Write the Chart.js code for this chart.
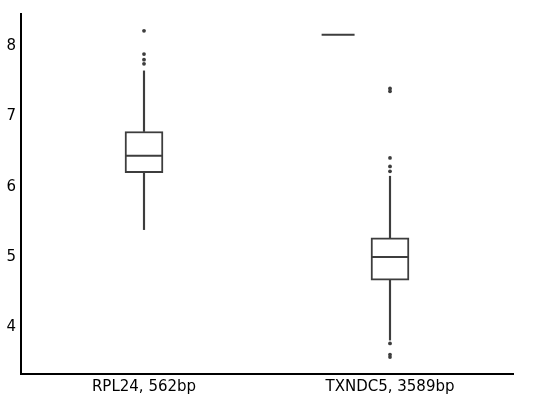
<!DOCTYPE html>
<html>
<head>
<meta charset="utf-8">
<script src="https://cdn.jsdelivr.net/npm/chart.js@4"></script>
<style>
html,body{margin:0;padding:0;background:#fff;}
canvas{display:block;}
</style>
</head>
<body>
<canvas id="c" width="547" height="402"></canvas>
<script>
const categories = ['RPL24, 562bp', 'TXNDC5, 3589bp'];
const q1 = [6.170, 4.640];
const median = [6.411, 4.970];
const q3 = [6.757, 5.243];
const whiskerLow = [5.360, 3.787];
const whiskerHigh = [7.620, 6.120];
const outliersRPL24 = [8.19, 7.86, 7.78, 7.72];
const outliersTXNDC5 = [7.37, 7.33, 6.38, 6.26, 6.19, 3.74, 3.58, 3.545];
const strayMark = { category: 'TXNDC5, 3589bp', value: 8.135 };
const yTicks = [4, 5, 6, 7, 8];
const yMin = 3.304, yMax = 8.43;

const ink = '#3d3d3d';

const boxes = categories.map((c, i) => [q1[i], q3[i]]);
const upperWhisk = categories.map((c, i) => [q3[i], whiskerHigh[i]]);
const lowerWhisk = categories.map((c, i) => [whiskerLow[i], q1[i]]);
const outlierPts = [
  ...outliersRPL24.map(v => ({ x: categories[0], y: v })),
  ...outliersTXNDC5.map(v => ({ x: categories[1], y: v }))
];

const overlay = {
  id: 'overlay',
  afterDatasetsDraw(chart) {
    const ctx = chart.ctx, xs = chart.scales.x, ys = chart.scales.y;
    const band = xs.getPixelForValue(1) - xs.getPixelForValue(0);
    const half = 19;
    ctx.save();
    ctx.strokeStyle = ink;
    ctx.lineWidth = 2;
    categories.forEach((c, i) => {
      const cx = xs.getPixelForValue(i);
      const y = ys.getPixelForValue(median[i]);
      ctx.beginPath();
      ctx.moveTo(cx - half + 1, y);
      ctx.lineTo(cx + half - 1, y);
      ctx.stroke();
    });
    const si = categories.indexOf(strayMark.category);
    const sx = xs.getPixelForValue(si);
    const sy = ys.getPixelForValue(strayMark.value);
    ctx.beginPath();
    ctx.moveTo(sx - 0.278 * band, sy);
    ctx.lineTo(sx - 0.144 * band, sy);
    ctx.stroke();
    ctx.restore();
  }
};

new Chart(document.getElementById('c'), {
  type: 'bar',
  data: {
    labels: categories,
    datasets: [
      { data: upperWhisk, backgroundColor: ink, borderWidth: 0, barThickness: 1.5, grouped: false, order: 3 },
      { data: lowerWhisk, backgroundColor: ink, borderWidth: 0, barThickness: 1.5, grouped: false, order: 3 },
      { data: boxes, backgroundColor: '#ffffff', borderColor: ink, borderWidth: 2, borderSkipped: false, barThickness: 38, grouped: false, order: 2 },
      { type: 'line', data: outlierPts, showLine: false, pointRadius: 1.9, pointBackgroundColor: ink, pointBorderWidth: 0, order: 1 }
    ]
  },
  options: {
    responsive: false,
    animation: false,
    devicePixelRatio: 1,
    layout: { padding: { top: 13, right: 34, left: 0, bottom: 0 } },
    plugins: { legend: { display: false }, tooltip: { enabled: false } },
    scales: {
      x: {
        type: 'category',
        offset: true,
        grid: { display: false, drawTicks: false },
        border: { display: true, color: '#000', width: 2 },
        ticks: { color: '#000', font: { family: 'DejaVu Sans', size: 15 }, padding: 4, maxRotation: 0 },
        afterFit(s) { s.height = 28; }
      },
      y: {
        min: yMin, max: yMax,
        grid: { display: false, drawTicks: false },
        border: { display: true, color: '#000', width: 2 },
        ticks: { color: '#000', font: { family: 'DejaVu Sans', size: 15 }, padding: 5, labelOffset: 2 },
        afterBuildTicks(s) { s.ticks = yTicks.map(v => ({ value: v })); },
        afterFit(s) { s.width = 21; }
      }
    }
  },
  plugins: [overlay]
});
</script>
</body>
</html>
